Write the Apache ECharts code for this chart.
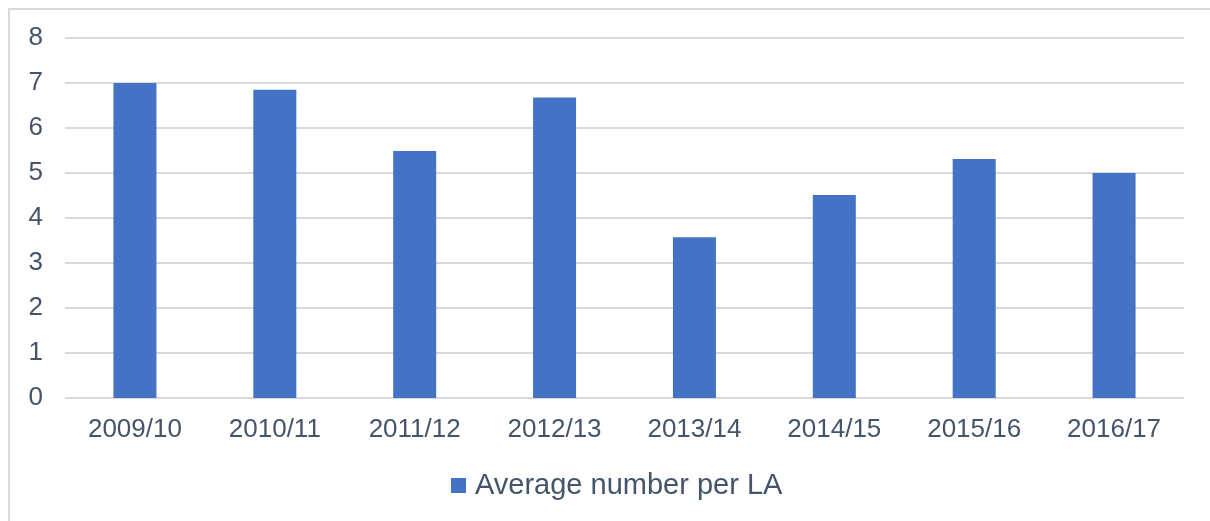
<!DOCTYPE html>
<html>
<head>
<meta charset="utf-8">
<script src="https://cdn.jsdelivr.net/npm/echarts@6/dist/echarts.min.js"></script>
<style>
  html, body { margin: 0; padding: 0; background: #fff; }
  #chart { position: absolute; left: 0; top: 0; width: 1210px; height: 521px; }
  .frame {
    position: absolute; left: 8px; top: 8px; width: 1210px; height: 521px;
    border-top: 2px solid #d9d9d9; border-left: 2px solid #d9d9d9;
    pointer-events: none;
  }
</style>
</head>
<body>
<div id="chart"></div>
<div class="frame"></div>
<script>
const years = ['2009/10', '2010/11', '2011/12', '2012/13', '2013/14', '2014/15', '2015/16', '2016/17'];
const averagePerLA = [7.0, 6.85, 5.49, 6.68, 3.57, 4.51, 5.31, 5.0];
const seriesName = 'Average number per LA';

const textColor = '#44546a';
const gridColor = '#d9d9d9';
const barColor = '#4472c4';

const chart = echarts.init(document.getElementById('chart'));

chart.setOption({
  animation: false,
  textStyle: { fontFamily: '"Liberation Sans", Arial, sans-serif' },
  grid: { left: 65, right: 26, top: 38, bottom: 123 },
  legend: {
    data: [seriesName],
    left: 446,
    top: 466,
    icon: 'rect',
    itemWidth: 15,
    itemHeight: 15,
    textStyle: { color: textColor, fontSize: 29, padding: [0, 0, 0, 4] },
  },
  xAxis: {
    type: 'category',
    data: years,
    axisLine: { show: false },
    axisTick: { show: false },
    axisLabel: { color: textColor, fontSize: 26, margin: 19 },
  },
  yAxis: {
    type: 'value',
    min: 0,
    max: 8,
    interval: 1,
    axisLine: { show: false },
    axisTick: { show: false },
    axisLabel: { color: textColor, fontSize: 26, margin: 22 },
    splitLine: { lineStyle: { color: gridColor, width: 2 } },
  },
  series: [
    {
      name: seriesName,
      type: 'bar',
      data: averagePerLA,
      barWidth: 43,
      itemStyle: { color: barColor },
    },
  ],
});
</script>
</body>
</html>
